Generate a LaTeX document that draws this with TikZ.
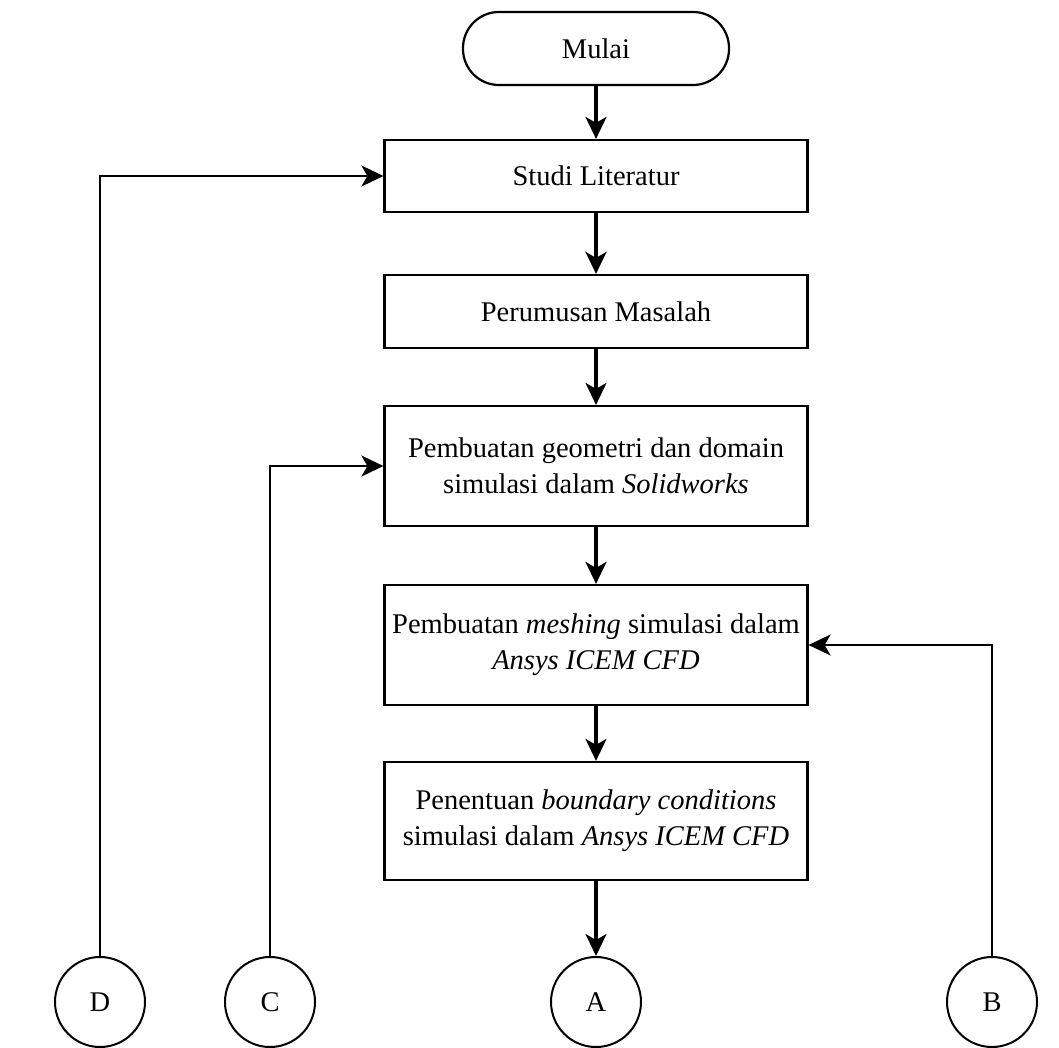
\documentclass[tikz,border=0pt]{standalone}
\usepackage{fontspec}
\setmainfont{Liberation Serif}
\usetikzlibrary{arrows.meta}
\begin{document}
\begin{tikzpicture}[x=1pt,y=-1pt,
  every node/.style={font=\fontsize{28.5}{36}\selectfont},
  process/.style={draw,line width=2.2pt,minimum width=423pt,align=center,inner sep=0pt},
  terminal/.style={draw,line width=2.2pt,minimum width=266pt,minimum height=73pt,rounded corners=36pt},
  connector/.style={draw,circle,line width=2pt,minimum size=90pt,inner sep=0pt},
  flow/.style={line width=3.2pt,-{Stealth[length=22pt,width=21pt,inset=6pt]}},
  link/.style={line width=2.2pt,-{Stealth[length=22pt,width=21pt,inset=6pt]}}]
\useasboundingbox (0,0) rectangle (1059,1048);

\node[terminal] (mulai) at (596,48.5) {Mulai};
\node[process,minimum height=72pt] (studi) at (596,176) {Studi Literatur};
\node[process,minimum height=73pt] (rumus) at (596,311.5) {Perumusan Masalah};
\node[process,minimum height=120pt] (geom) at (596,466)
  {Pembuatan geometri dan domain\\simulasi dalam \textit{Solidworks}};
\node[process,minimum height=120pt] (mesh) at (596,645)
  {Pembuatan \textit{meshing} simulasi dalam\\\textit{Ansys ICEM CFD}};
\node[process,minimum height=118pt] (bound) at (596,821)
  {Penentuan \textit{boundary conditions}\\simulasi dalam \textit{Ansys ICEM CFD}};

\node[connector] (D) at (100,1002) {D};
\node[connector] (C) at (270,1002) {C};
\node[connector] (A) at (596,1002) {A};
\node[connector] (B) at (992,1002) {B};

% main sequence
\draw[flow] (mulai) -- (studi);
\draw[flow] (studi) -- (rumus);
\draw[flow] (rumus) -- (geom);
\draw[flow] (geom) -- (mesh);
\draw[flow] (mesh) -- (bound);
\draw[flow] (bound) -- (A);

% return links from off-page connectors
\draw[link] (D.north) |- (studi.west);
\draw[link] (C.north) |- (geom.west);
\draw[link] (B.north) |- (mesh.east);
\end{tikzpicture}
\end{document}
